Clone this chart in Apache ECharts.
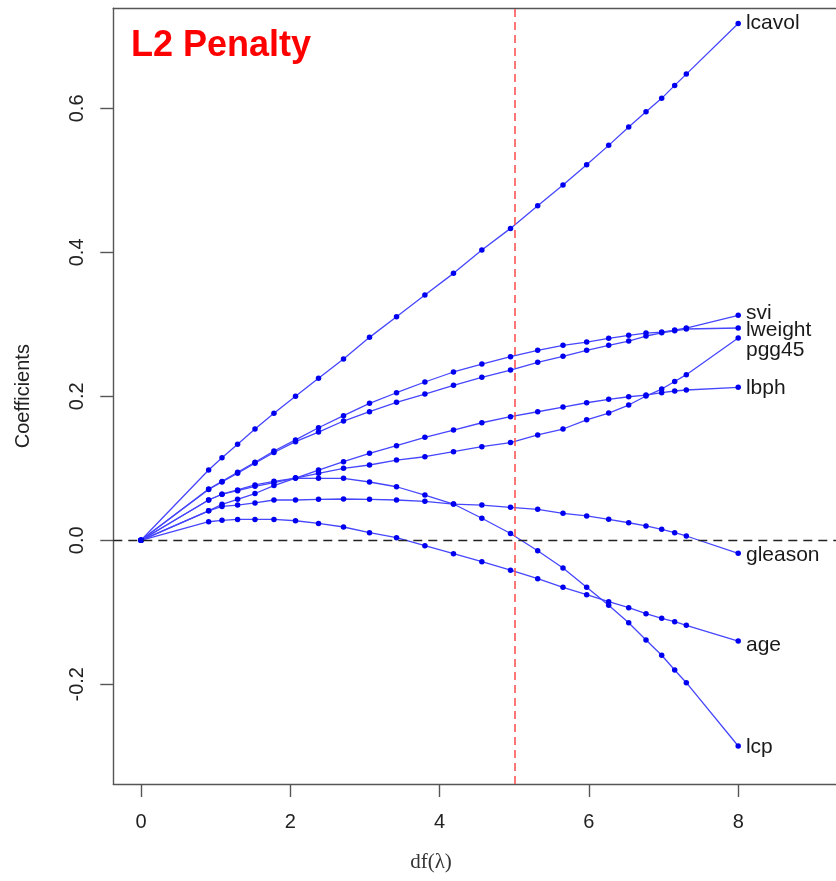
<!DOCTYPE html>
<html>
<head>
<meta charset="utf-8">
<script src="https://cdn.jsdelivr.net/npm/echarts@6/dist/echarts.min.js"></script>
<style>
html,body{margin:0;padding:0;background:#fff;}
#chart{width:836px;height:881px;}
</style>
</head>
<body>
<div id="chart"></div>
<script>
// degrees of freedom at which the coefficients are marked
const dfVals = [0, 0.906, 1.085, 1.294, 1.527, 1.781, 2.070, 2.378, 2.713, 3.061, 3.423, 3.803, 4.186, 4.566, 4.950, 5.314, 5.653, 5.970, 6.265, 6.533, 6.765, 6.975, 7.149, 7.305, 8.0];

const lcavol  = [0, 0.0976, 0.1147, 0.1333, 0.1546, 0.1764, 0.2000, 0.2250, 0.2518, 0.2819, 0.3106, 0.3407, 0.3708, 0.4032, 0.4333, 0.4647, 0.4935, 0.5217, 0.5486, 0.5740, 0.5953, 0.6139, 0.6319, 0.6476, 0.7180];
const svi     = [0, 0.0712, 0.0818, 0.0945, 0.1085, 0.1240, 0.1395, 0.1564, 0.1731, 0.1903, 0.2050, 0.2199, 0.2338, 0.2449, 0.2550, 0.2639, 0.2708, 0.2754, 0.2806, 0.2847, 0.2879, 0.2893, 0.2921, 0.2949, 0.3125];
const lweight = [0, 0.0705, 0.0810, 0.0932, 0.1070, 0.1220, 0.1370, 0.1504, 0.1657, 0.1786, 0.1917, 0.2032, 0.2153, 0.2264, 0.2365, 0.2472, 0.2556, 0.2639, 0.2708, 0.2768, 0.2838, 0.2883, 0.2911, 0.2935, 0.2949];
const pgg45   = [0, 0.0560, 0.0640, 0.0690, 0.0750, 0.0800, 0.0865, 0.0930, 0.1000, 0.1046, 0.1115, 0.1161, 0.1231, 0.1300, 0.1358, 0.1463, 0.1546, 0.1674, 0.1768, 0.1879, 0.2004, 0.2101, 0.2206, 0.2301, 0.2809];
const lbph    = [0, 0.0410, 0.0500, 0.0570, 0.0650, 0.0760, 0.0865, 0.0976, 0.1092, 0.1208, 0.1314, 0.1431, 0.1532, 0.1633, 0.1717, 0.1786, 0.1851, 0.1911, 0.1958, 0.1994, 0.2018, 0.2050, 0.2074, 0.2088, 0.2125];
const gleason = [0, 0.0410, 0.0470, 0.0490, 0.0520, 0.0560, 0.0560, 0.0569, 0.0574, 0.0569, 0.0560, 0.0542, 0.0504, 0.0490, 0.0458, 0.0431, 0.0375, 0.0338, 0.0292, 0.0244, 0.0199, 0.0153, 0.0106, 0.0060, -0.0181];
const age     = [0, 0.0258, 0.0278, 0.0290, 0.0290, 0.0290, 0.0272, 0.0235, 0.0185, 0.0106, 0.0036, -0.0075, -0.0186, -0.0297, -0.0415, -0.0533, -0.0653, -0.0756, -0.0853, -0.0936, -0.1019, -0.1083, -0.1131, -0.1181, -0.1399];
const lcp     = [0, 0.0560, 0.0640, 0.0700, 0.0770, 0.0820, 0.0865, 0.0861, 0.0861, 0.0810, 0.0744, 0.0629, 0.0504, 0.0306, 0.0095, -0.0144, -0.0385, -0.0653, -0.0903, -0.1144, -0.1385, -0.1597, -0.1801, -0.1978, -0.2857];

const seriesNames = ['lcavol', 'svi', 'lweight', 'pgg45', 'lbph', 'gleason', 'age', 'lcp'];
const seriesValues = [lcavol, svi, lweight, pgg45, lbph, gleason, age, lcp];

const xTicks = [0, 2, 4, 6, 8];
const yTicks = [-0.2, 0, 0.2, 0.4, 0.6];
const chosenDf = 5;

// label vertical nudges (pixels) to keep end labels from overlapping
const labelNudge = {lcavol: 0, svi: -2, lweight: 2, pgg45: 12, lbph: 1, gleason: 2, age: 4, lcp: 1};

const FONT = 'Liberation Sans, Arial, Helvetica, sans-serif';

const series = seriesNames.map((name, s) => {
  const vals = seriesValues[s];
  const data = dfVals.map((x, i) => {
    const item = {value: [x, vals[i]]};
    if (i === dfVals.length - 1) {
      item.label = {
        show: true, position: 'right', distance: 5,
        offset: [0, labelNudge[name]],
        formatter: name, color: '#1a1a1a', fontSize: 21, fontFamily: FONT
      };
    }
    return item;
  });
  const sObj = {
    name, type: 'line', data,
    symbol: 'circle', symbolSize: 5.5,
    itemStyle: {color: '#0000f0'},
    lineStyle: {color: '#4646ff', width: 1.3},
    silent: true, z: 3
  };
  if (s === 0) {
    sObj.markLine = {
      silent: true, symbol: 'none', label: {show: false},
      data: [
        {xAxis: chosenDf, lineStyle: {color: '#ff4a4a', type: [8, 5], width: 1.5}},
        {yAxis: 0, lineStyle: {color: '#222', type: [9, 6], width: 1.3}}
      ]
    };
  }
  return sObj;
});

const chart = echarts.init(document.getElementById('chart'), null, {renderer: 'canvas'});
chart.setOption({
  animation: false,
  backgroundColor: '#fff',
  title: [
    {text: 'L2 Penalty', left: 131, top: 28, padding: 0,
     textStyle: {color: '#ff0000', fontSize: 36, fontWeight: 'bold', fontFamily: FONT}},
    {text: 'df(λ)', left: 431, top: 852, padding: 0, textAlign: 'center',
     textStyle: {color: '#333', fontSize: 21, fontWeight: 'normal', fontFamily: 'Liberation Serif, DejaVu Serif, serif'}}
  ],
  grid: {left: 113.3, right: 0, top: 8.3, bottom: 97, containLabel: false},
  xAxis: [
    {type: 'value', min: -0.371, max: 9.31, position: 'bottom',
     axisLine: {show: true, onZero: false, lineStyle: {color: '#555', width: 1.4}},
     axisTick: {show: true, inside: false, length: 13, customValues: xTicks, lineStyle: {color: '#555', width: 1.4}},
     axisLabel: {show: true, margin: 28, customValues: xTicks, color: '#222', fontSize: 20, fontFamily: FONT,
                 formatter: v => String(v)},
     splitLine: {show: false}},
    {type: 'value', min: -0.371, max: 9.31, position: 'top',
     axisLine: {show: true, onZero: false, lineStyle: {color: '#555', width: 1.4}},
     axisTick: {show: false}, axisLabel: {show: false}, splitLine: {show: false}}
  ],
  yAxis: {
    type: 'value', min: -0.3385, max: 0.739,
    name: 'Coefficients', nameLocation: 'middle', nameGap: 80, nameRotate: 90,
    nameTextStyle: {color: '#222', fontSize: 20, fontFamily: FONT},
    axisLine: {show: true, onZero: false, lineStyle: {color: '#555', width: 1.4}},
    axisTick: {show: true, inside: false, length: 13, customValues: yTicks, lineStyle: {color: '#555', width: 1.4}},
    axisLabel: {show: true, rotate: 90, margin: 26, customValues: yTicks, color: '#222', fontSize: 20, fontFamily: FONT,
                formatter: v => v.toFixed(1)},
    splitLine: {show: false}
  },
  series
});
</script>
</body>
</html>
